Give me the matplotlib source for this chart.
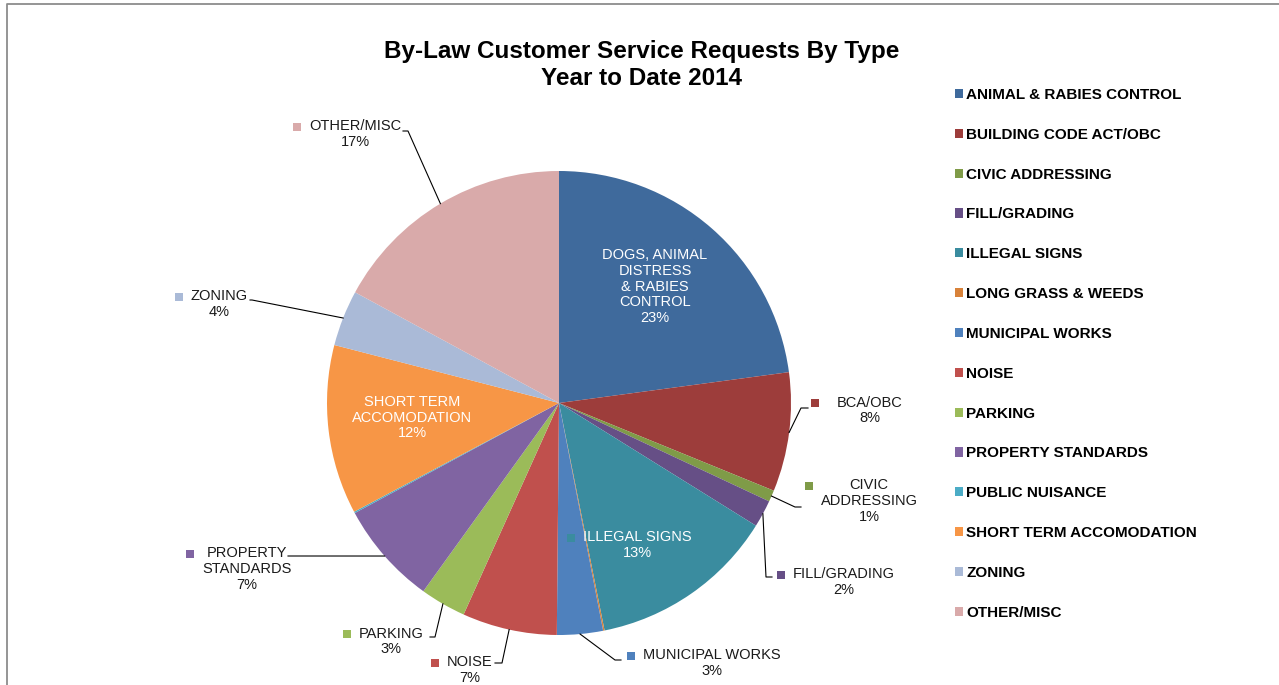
import matplotlib
matplotlib.use("Agg")
import matplotlib.pyplot as plt
import numpy as np

plt.rcParams['font.family'] = ['Liberation Sans', 'DejaVu Sans']

# ---------------- data ----------------
categories = ["ANIMAL & RABIES CONTROL", "BUILDING CODE ACT/OBC", "CIVIC ADDRESSING",
              "FILL/GRADING", "ILLEGAL SIGNS", "LONG GRASS & WEEDS", "MUNICIPAL WORKS",
              "NOISE", "PARKING", "PROPERTY STANDARDS", "PUBLIC NUISANCE",
              "SHORT TERM ACCOMODATION", "ZONING", "OTHER/MISC"]
values = [229, 83, 8, 19, 130, 1, 32, 66, 32, 72, 1, 118, 39, 171]
label_names = ["DOGS, ANIMAL\nDISTRESS\n& RABIES\nCONTROL", "BCA/OBC", "CIVIC\nADDRESSING",
               "FILL/GRADING", "ILLEGAL SIGNS", None, "MUNICIPAL WORKS", "NOISE", "PARKING",
               "PROPERTY\nSTANDARDS", None, "SHORT TERM\nACCOMODATION", "ZONING", "OTHER/MISC"]
colors = ["#3F6A9C", "#9D3D3B", "#7F9B48", "#664F86", "#3A8C9F", "#D8823A", "#4F81BD",
          "#C0504D", "#9BBB59", "#8064A2", "#4BACC6", "#F79646", "#AABAD7", "#D9AAAA"]
inside = [True, False, False, False, True, False, False, False, False, False, False, True, False, False]

title = "By-Law Customer Service Requests By Type\nYear to Date 2014"

# ---------------- layout (pixel units, y from top) ----------------
W, H = 1279, 685
CX, CY, R = 559, 403, 232
# label block centres
label_pos = {0: (655, 286.5), 1: (870, 410.5), 2: (869, 501), 3: (844, 582),
             4: (637, 545), 6: (712, 663), 7: (470, 670), 8: (391, 641.5),
             9: (247, 569), 11: (412, 417.5), 12: (219.5, 304), 13: (355, 134)}
# extra gap between legend key and label text
key_gap = {1: 10}
# leader line elbow and end points
leaders = {1: [(801, 408), (808, 408)], 2: [(795, 507), (801, 507)],
           3: [(766, 577), (772, 577)], 6: [(615, 660), (621, 660)],
           7: [(502, 663), (495, 663)], 8: [(435, 637), (430, 637)],
           9: [(292, 556), (288, 556)], 12: [(252, 300), (250, 300)],
           13: [(408, 131), (403, 131)]}

def Y(y):
    return H - y

fig = plt.figure(figsize=(W / 100, H / 100), dpi=100)
ax = fig.add_axes([0, 0, 1, 1])

wedges, _ = ax.pie(values, colors=colors, startangle=90, counterclock=False,
                   center=(CX, Y(CY)), radius=R, wedgeprops=dict(linewidth=0))
ax.set_xlim(0, W)
ax.set_ylim(0, H)
ax.set_aspect('equal')
ax.axis('off')

# frame (cropped chart border)
ax.plot([7, 7, W], [0, Y(4), Y(4)], color="#8C8C8C", lw=1.3, solid_capstyle='butt',
        clip_on=False)

total = sum(values)
FS = 10.5
texts = {}
for i, w in enumerate(wedges):
    if label_names[i] is None:
        continue
    pct = int(round(values[i] / total * 100))
    s = f"{label_names[i]}\n{pct}%"
    x, y = label_pos[i]
    col = "white" if inside[i] else "#1A1A1A"
    t = ax.text(x, Y(y), s, ha='center', va='center', multialignment='center',
                fontsize=FS, color=col, linespacing=1.17)
    texts[i] = t
    # leader line from middle of the wedge's arc
    if i in leaders:
        mid = np.deg2rad((w.theta1 + w.theta2) / 2)
        ax0 = CX + R * np.cos(mid)
        ay0 = Y(CY) + R * np.sin(mid)
        xs = [ax0] + [p[0] for p in leaders[i]]
        ys = [ay0] + [Y(p[1]) for p in leaders[i]]
        ax.plot(xs, ys, color="black", lw=0.8)

# legend-key squares in front of each data label
fig.canvas.draw()
rend = fig.canvas.get_renderer()
inv = ax.transData.inverted()
for i, t in texts.items():
    bb = t.get_window_extent(renderer=rend)
    x0, y1 = inv.transform((bb.x0, bb.y1))
    nlines = t.get_text().count("\n") + 1
    line_h = (bb.height) / nlines
    ym = y1 - line_h * 0.5
    ax.add_patch(plt.Rectangle((x0 - 16 - key_gap.get(i, 0), ym - 4), 8, 8,
                               facecolor=colors[i], edgecolor='none'))

# legend
leg = ax.legend(wedges, categories, loc='upper left',
                bbox_to_anchor=(955 / W, 1 - 88 / H), bbox_transform=fig.transFigure,
                frameon=False, borderpad=0, borderaxespad=0,
                handlelength=0.55, handleheight=0.55, handletextpad=0.2,
                labelspacing=1.69, prop=dict(weight='bold', size=11))

fig.text(641.5 / W, 1 - 65 / H, title, ha='center', va='center', fontsize=17.5,
         fontweight='bold', linespacing=1.25)

fig.savefig("out.png", dpi=100)
